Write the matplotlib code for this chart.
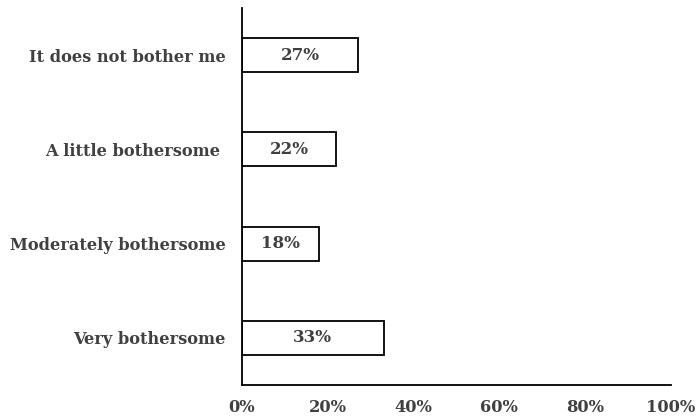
import matplotlib
matplotlib.use("Agg")
import matplotlib.pyplot as plt
import numpy as np

# survey answers, listed bottom to top
categories = ["Very bothersome", "Moderately bothersome",
              "A little bothersome ", "It does not bother me"]
shares = [33, 18, 22, 27]
xticks = [0, 20, 40, 60, 80, 100]

text_color = "#404040"
font = dict(family="DejaVu Serif", weight="bold", color=text_color)

fig = plt.figure(figsize=(6.97, 4.18), dpi=100)
ax = fig.add_axes([242 / 697, 33 / 418, 429 / 697, 377 / 418])

y = np.arange(len(categories))
bars = ax.barh(y, shares, height=0.36, color="white",
               edgecolor="black", linewidth=1.3)

for bar, val in zip(bars, shares):
    ax.text(bar.get_x() + bar.get_width() / 2,
            bar.get_y() + bar.get_height() / 2,
            f"{val}%", ha="center", va="center", fontsize=12, **font)

ax.set_xlim(0, 100)
ax.set_ylim(-0.5, len(categories) - 0.5)
ax.set_xticks(xticks)
ax.set_xticklabels([f"{t}%" for t in xticks])
ax.set_yticks(y)
ax.set_yticklabels(categories)
for lbl in ax.get_xticklabels() + ax.get_yticklabels():
    lbl.set_fontfamily("DejaVu Serif")
    lbl.set_fontweight("bold")
    lbl.set_color(text_color)
    lbl.set_fontsize(11.7)
ax.tick_params(axis="both", length=0)
ax.tick_params(axis="x", pad=10)
ax.tick_params(axis="y", pad=12)

for side in ["top", "right"]:
    ax.spines[side].set_visible(False)
for side in ["left", "bottom"]:
    ax.spines[side].set_linewidth(1.3)
    ax.spines[side].set_color("black")

fig.savefig("out.png", dpi=100)
